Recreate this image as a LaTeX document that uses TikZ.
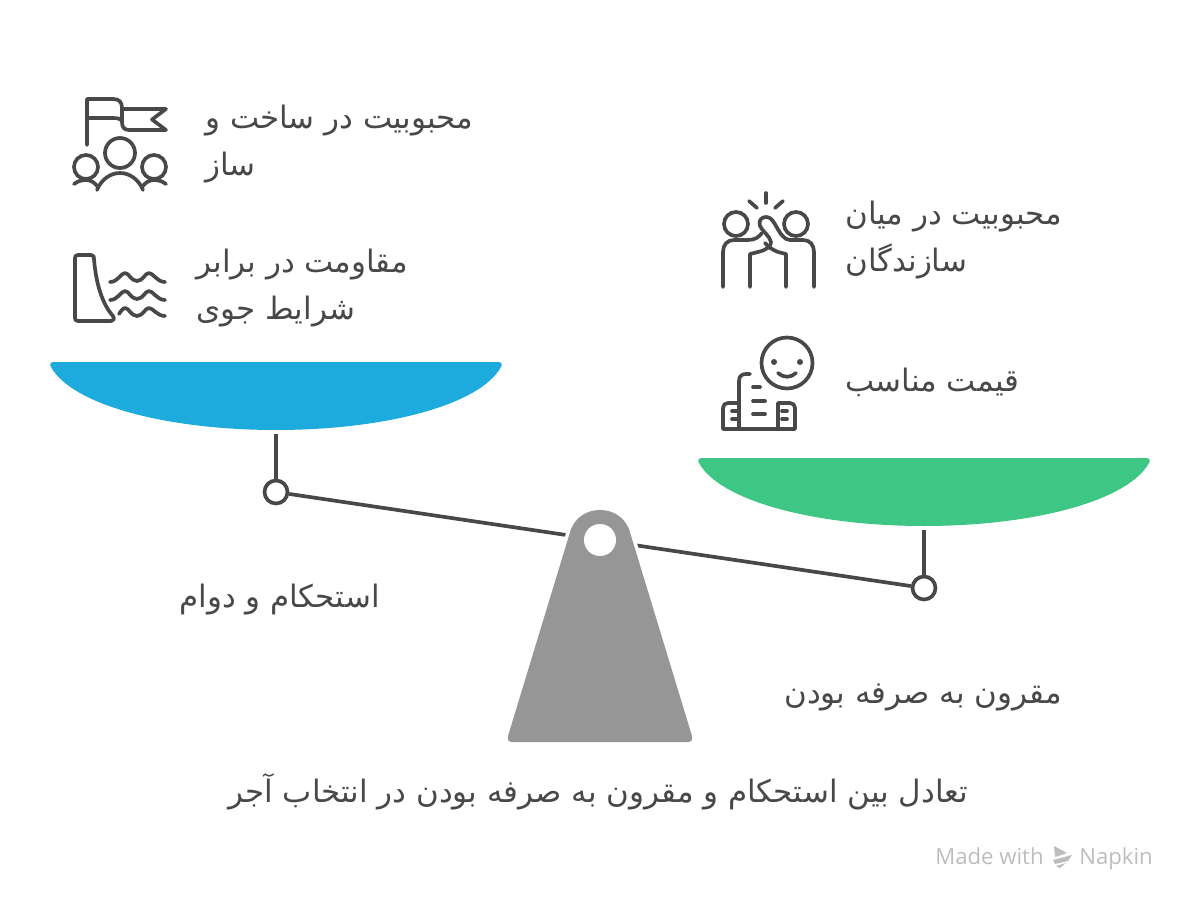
\documentclass[tikz,border=0pt]{standalone}
\usepackage{fontspec}
\TeXXeTstate=1
\newfontfamily\arabicfont[Script=Arabic]{DejaVu Sans}
\newfontfamily\brandfont{Open Sans}
\definecolor{inkgray}{HTML}{484848}
\definecolor{basegray}{HTML}{969696}
\definecolor{bowlblue}{HTML}{1CABDC}
\definecolor{bowlgreen}{HTML}{3DC684}
\definecolor{brandgray}{HTML}{BDBDBD}
\tikzset{
  iconline/.style={draw=inkgray,line width=2.1pt,line cap=round,line join=round},
  jointnode/.style={circle,draw=inkgray,fill=white,line width=2.1pt,minimum size=0.46cm,inner sep=0pt},
  farsitext/.style={text=inkgray,anchor=west,align=left,inner sep=0pt,font=\arabicfont\fontsize{17.6}{27.2}\selectfont},
  brandtext/.style={text=brandgray,anchor=base west,inner sep=0pt,font=\brandfont\fontsize{12.6}{14}\selectfont}
}
\begin{document}
\begin{tikzpicture}[x=0.02cm,y=-0.02cm]
\useasboundingbox (0,0) rectangle (1200,912);

% beam and stems
\node [jointnode] (leftjoint) at (276,492) {};
\node [jointnode] (rightjoint) at (924,588) {};
\coordinate (leftbottom) at (276,434);
\coordinate (rightbottom) at (924,530);
\draw [iconline,line cap=butt] (leftjoint) -- (rightjoint);
\draw [iconline,line cap=butt] (leftbottom) -- (leftjoint);
\draw [iconline,line cap=butt] (rightbottom) -- (rightjoint);

% stand
\fill [white] (566,533) -- (504,745) -- (696,745) -- (634,533) -- cycle;
\fill [basegray] (571,529) .. controls (576,517) and (587,510) .. (600,510) .. controls (613,510) and (624,517) .. (629,529) -- (692,736) .. controls (693,740) and (691,742) .. (688,742) -- (512,742) .. controls (509,742) and (507,740) .. (508,736) -- cycle;
\fill [white] (600,540) circle (16);

% bowls
\fill [bowlblue] (54,362) -- (498,362) .. controls (501,362) and (503,364) .. (501,367) .. controls (480,405) and (385,430) .. (276,430) .. controls (167,430) and (72,405) .. (51,367) .. controls (49,364) and (51,362) .. (54,362) -- cycle;
\fill [bowlgreen] (702,458) -- (1146,458) .. controls (1149,458) and (1151,460) .. (1149,463) .. controls (1128,501) and (1033,526) .. (924,526) .. controls (815,526) and (720,501) .. (699,463) .. controls (697,460) and (699,458) .. (702,458) -- cycle;

% flag and people
\draw [iconline] (87,145) -- (87,99) -- (113,99) .. controls (119,99) and (122,102) .. (122,108) -- (122,122) .. controls (122,127) and (124,130) .. (129,130) -- (166,130) -- (152,119.5) -- (166,109) -- (122,109);
\draw [iconline] (87,118) -- (113,118) .. controls (118,118) and (122,119) .. (122,122);
\draw [iconline] (120,153) circle (15);
\draw [iconline] (86,167) circle (12);
\draw [iconline] (154,167) circle (12);
\draw [iconline] (97,190) .. controls (101,180) and (110,173) .. (120,173) .. controls (130,173) and (139,180) .. (143,190);
\draw [iconline] (74,184) .. controls (78,181) and (82,180) .. (86,180) .. controls (91,180) and (95,183) .. (98,187);
\draw [iconline] (166,184) .. controls (162,181) and (158,180) .. (154,180) .. controls (149,180) and (145,183) .. (142,187);

% dam and waves
\draw [iconline] (78,255) -- (91,255) .. controls (94,255) and (94,257) .. (94,259) .. controls (96,285) and (103,305) .. (113,316) .. controls (115,319) and (113,321) .. (111,321) -- (78,321) .. controls (76,321) and (75,320) .. (75,318) -- (75,258) .. controls (75,256) and (76,255) .. (78,255) -- cycle;
\foreach \wavey in {0,18}{
  \draw [iconline] (110,282+\wavey) .. controls (118,282+\wavey) and (121,273+\wavey) .. (125,273+\wavey) .. controls (129,273+\wavey) and (131,281+\wavey) .. (137,281+\wavey) .. controls (143,281+\wavey) and (145,273+\wavey) .. (149,273+\wavey) .. controls (153,273+\wavey) and (157,282+\wavey) .. (165,282+\wavey);
}
\draw [iconline] (119,314) .. controls (121,311) and (123,308) .. (125,308) .. controls (129,308) and (131,316) .. (137,316) .. controls (143,316) and (145,308) .. (149,308) .. controls (153,308) and (157,316) .. (165,316);

% high five
\draw [iconline] (766,193) -- (766,203);
\draw [iconline] (749,201) -- (757,208);
\draw [iconline] (783,201) -- (775,208);
\draw [iconline] (736,224) circle (12);
\draw [iconline] (796,224) circle (12);
\draw [iconline] (723,287) -- (723,252) .. controls (723,245) and (727,240) .. (734,240) -- (748,240) .. controls (755,240) and (759,237) .. (762,233);
\draw [iconline] (750,287) -- (750,254) -- (758,252) .. controls (766,250) and (771,247) .. (771,242) .. controls (770,236) and (762,231) .. (760,226) .. controls (758,220) and (762,217) .. (766,217) .. controls (771,217) and (773,221) .. (776,226) .. controls (780,233) and (784,240) .. (790,240) -- (803,240) .. controls (810,240) and (814,245) .. (814,252) -- (814,287);
\draw [iconline] (786,287) -- (786,254) -- (778,252) .. controls (773,250) and (768,247) .. (765,243);

% building and face
\draw [iconline] (787,363) circle (25.5);
\fill [inkgray] (774,362) circle (3);
\fill [inkgray] (800,362) circle (3);
\draw [iconline] (778,373) .. controls (783,378) and (791,378) .. (796,373);
\draw [iconline] (739,429) -- (739,381) .. controls (739,376) and (742,374) .. (746,374) -- (750,374);
\draw [iconline] (738,403) -- (728,403) .. controls (725,403) and (723,405) .. (723,408) -- (723,429) -- (795,429) -- (795,408) .. controls (795,405) and (793,403) .. (790,403) -- (778,403) -- (778,429);
\foreach \dashx/\dashy/\dashend in {753/387/760,753/401/765,753/414/765,732/411/737,732/419/737,782/411/787,782/419/787}{
  \draw [iconline] (\dashx,\dashy) -- (\dashend,\dashy);
}

% labels
\node [farsitext] (flaglabel) at (205,144) {\beginR محبوبیت در ساخت و\endR\\\beginR ساز\endR};
\node [farsitext] (damlabel) at (196,288) {\beginR مقاومت در برابر\endR\\\beginR شرایط جوی\endR};
\node [farsitext] (fivelabel) at (845,240) {\beginR محبوبیت در میان\endR\\\beginR سازندگان\endR};
\node [farsitext] (facelabel) at (845,382) {\beginR قیمت مناسب\endR};
\node [farsitext] (leftlabel) at (179,600) {\beginR استحکام و دوام\endR};
\node [farsitext] (rightlabel) at (784,697) {\beginR مقرون به صرفه بودن\endR};
\node [farsitext] (captionlabel) at (228,792) {\beginR تعادل بین استحکام و مقرون به صرفه بودن در انتخاب آجر\endR};

% brand mark
\node [brandtext] (madelabel) at (935,864) {Made with};
\node [brandtext] (napkinlabel) at (1079,864) {Napkin};
\fill [brandgray] (1054,846) -- (1067,853) -- (1055,857) -- cycle;
\fill [brandgray] (1053,860) -- (1072,855) -- (1068,861) -- (1055,864) -- cycle;
\fill [brandgray] (1056,866) -- (1066,863) -- (1060,868) -- cycle;
\end{tikzpicture}
\end{document}
